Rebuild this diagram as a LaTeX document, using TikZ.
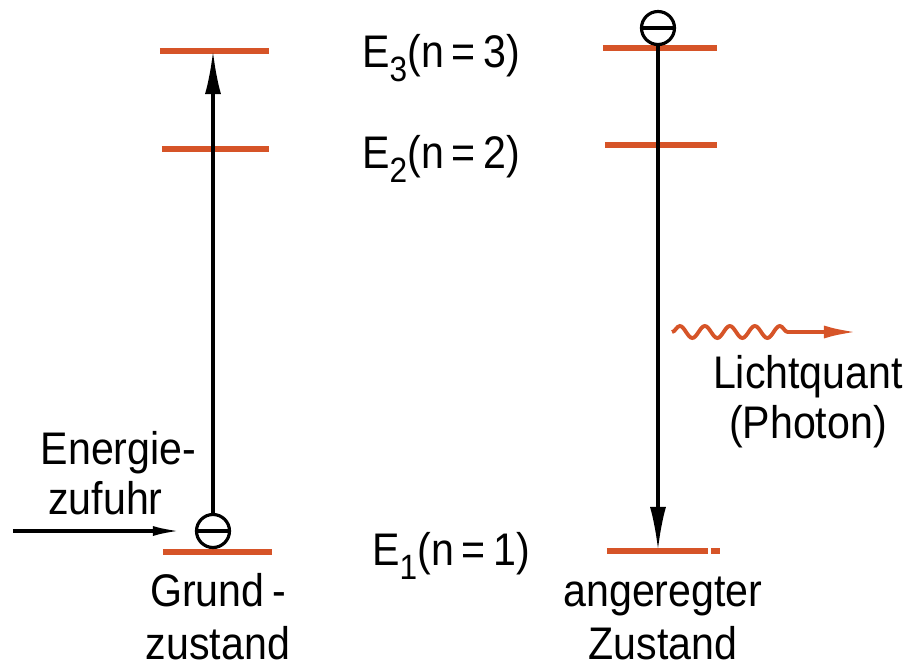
\documentclass[tikz,border=0pt]{standalone}
\usepackage{fontspec}
\setmainfont{Liberation Sans}[FakeStretch=0.9]
\usetikzlibrary{arrows.meta,decorations.pathmorphing}
\definecolor{levelorange}{RGB}{214,84,40}
\newcommand{\lvidx}[1]{\raisebox{-.32em}{\fontsize{10}{10}\selectfont #1}}

\begin{document}
\begin{tikzpicture}[x=0.01cm, y=-0.01cm,
    level/.style={levelorange, line width=1.5pt},
    thread/.style={line width=0.9pt},
    electron/.style={circle, draw, line width=0.9pt, minimum size=0.33cm, inner sep=0pt},
    lab/.style={font=\fontsize{13}{14}\selectfont, inner sep=0pt, anchor=base, align=center},
    drop/.style={thread, -{Latex[length=4.3mm, width=1.6mm]}}]
  \useasboundingbox (0,0) rectangle (914,666);
  % energy levels, ground state left, excited state right
  \draw[level] (160,51) -- (269,51);
  \draw[level] (162,149) -- (269,149);
  \draw[level] (163,552) -- (272,552);
  \draw[level] (603,48) -- (717,48);
  \draw[level] (605,145) -- (717,145);
  \draw[level] (607,551) -- (708,551) (711,551) -- (720,551);
  \coordinate (g3) at (213,51);
  \coordinate (a1) at (658,550);
  \coordinate (feed) at (13,531);
  \node[electron] (eg) at (213,531) {};
  \node[electron] (ea) at (658,28) {};
  \draw[thread] (eg.west) -- (eg.east);
  \draw[thread] (ea.west) -- (ea.east);
  \draw[drop] (eg) -- (g3);
  \draw[drop] (ea) -- (a1);
  \draw[thread, -{Latex[length=2.7mm, width=1mm]}, shorten >=1.5mm] (feed) -- (eg);
  % photon
  \coordinate (ph0) at (672,332);
  \coordinate (ph1) at (857,332);
  \draw[levelorange, line width=1.1pt, decorate,
    decoration={snake, amplitude=0.06cm, segment length=0.25cm, post length=0.6cm},
    -{Latex[length=3.3mm, width=1.3mm]}] (ph0) -- (ph1);
  \node[lab] (e3) at (441,67) {E\lvidx{3}(n\,=\,3)};
  \node[lab] (e2) at (441,168) {E\lvidx{2}(n\,=\,2)};
  \node[lab] (e1) at (451,565) {E\lvidx{1}(n\,=\,1)};
  \node[lab, align=left, anchor=base west] (supply) at (40,514) {Energie-\\\,zufuhr};
  \node[lab, font=\fontsize{13}{15}\selectfont] (ground) at (218,659) {Grund\,-\\zustand};
  \node[lab, font=\fontsize{13}{15}\selectfont] (excited) at (663,659) {angeregter\\Zustand};
  \node[lab] (photon) at (808,438) {Lichtquant\\(Photon)};
\end{tikzpicture}
\end{document}
